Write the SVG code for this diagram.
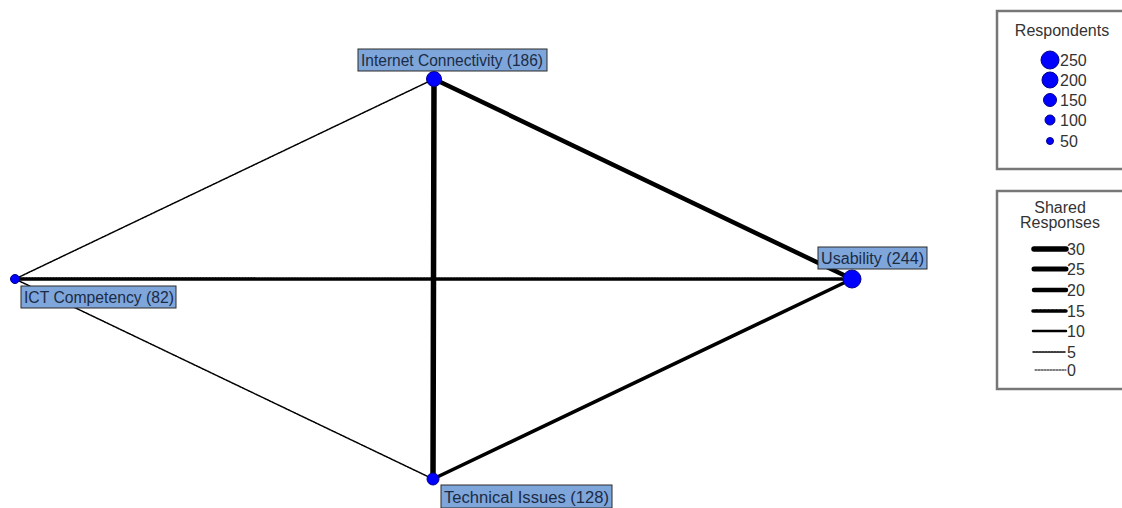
<svg xmlns="http://www.w3.org/2000/svg" width="1122" height="508" viewBox="0 0 1122 508">
<style>
.lbl{fill:#7ea6da;stroke:#2a2a2a;stroke-width:1}
.lt{font-family:"Liberation Sans",Arial,sans-serif;font-size:16px;fill:#1c2b45}
.node{fill:#0000ff;stroke:#00008a;stroke-width:1}
.e{stroke:#000;fill:none;stroke-linecap:round}
.box{fill:#fff;stroke:#777;stroke-width:2.5}
.leg{font-family:"Liberation Sans",Arial,sans-serif;font-size:16px;fill:#333}
</style>
<rect width="1122" height="508" fill="#fff"/>
<g id="connectors">
<line class="e" x1="15" y1="279" x2="434" y2="79" stroke-width="1.5" stroke-dasharray="2,1" stroke="#222"/>
<line class="e" x1="15" y1="279" x2="433" y2="479" stroke-width="1.5" stroke-dasharray="2,1" stroke="#222"/>
<line class="e" x1="15" y1="279" x2="852" y2="279" stroke-width="3.5" stroke-dasharray="2,1" stroke-linecap="butt" stroke="#222"/>
<line class="e" x1="434" y1="79" x2="433" y2="479" stroke-width="5.5"/>
<line class="e" x1="434" y1="79" x2="852" y2="279" stroke-width="4.5"/>
<line class="e" x1="433" y1="479" x2="852" y2="279" stroke-width="3.5"/>
</g>
<g id="n-internet">
<circle class="node" cx="434" cy="79" r="7.5"/>
<rect class="lbl" x="358" y="49" width="189" height="22"/>
<text class="lt" x="361" y="66" textLength="182" lengthAdjust="spacingAndGlyphs">Internet Connectivity (186)</text>
</g>
<g id="n-ict">
<circle class="node" cx="15" cy="279" r="4.5"/>
<rect class="lbl" x="21" y="286" width="155" height="22"/>
<text class="lt" x="24" y="303" textLength="150" lengthAdjust="spacingAndGlyphs">ICT Competency (82)</text>
</g>
<g id="n-usability">
<circle class="node" cx="852" cy="279" r="9"/>
<rect class="lbl" x="818" y="247" width="109" height="22"/>
<text class="lt" x="821" y="264" textLength="103" lengthAdjust="spacingAndGlyphs">Usability (244)</text>
</g>
<g id="n-technical">
<circle class="node" cx="433" cy="479" r="6"/>
<rect class="lbl" x="441" y="485" width="171" height="23"/>
<text class="lt" x="444" y="503" textLength="165" lengthAdjust="spacingAndGlyphs">Technical Issues (128)</text>
</g>
<g id="legend-respondents">
<rect class="box" x="997" y="11" width="130" height="158"/>
<text class="leg" x="1062" y="36" text-anchor="middle">Respondents</text>
<circle class="node" cx="1050" cy="60" r="9"/>
<circle class="node" cx="1050" cy="80" r="8"/>
<circle class="node" cx="1050" cy="100" r="6.5"/>
<circle class="node" cx="1050" cy="120" r="5"/>
<circle class="node" cx="1050" cy="141" r="3.5"/>
<text class="leg" x="1060" y="66">250</text>
<text class="leg" x="1060" y="86">200</text>
<text class="leg" x="1060" y="106">150</text>
<text class="leg" x="1060" y="126">100</text>
<text class="leg" x="1060" y="147">50</text>
</g>
<g id="legend-shared">
<rect class="box" x="997" y="191" width="130" height="198"/>
<text class="leg" x="1060" y="213" text-anchor="middle">Shared</text>
<text class="leg" x="1060" y="228" text-anchor="middle">Responses</text>
<line class="e" x1="1034" y1="249" x2="1066" y2="249" stroke-width="5.5"/>
<line class="e" x1="1034" y1="269" x2="1066" y2="269" stroke-width="5"/>
<line class="e" x1="1034" y1="290" x2="1066" y2="290" stroke-width="4.5"/>
<line class="e" x1="1033" y1="311" x2="1066" y2="311" stroke-width="3.5" stroke-dasharray="3,1" stroke-linecap="butt"/>
<line class="e" x1="1033" y1="331" x2="1066" y2="331" stroke-width="2.5" stroke-linecap="butt"/>
<line class="e" x1="1033" y1="352" x2="1066" y2="352" stroke-width="1.5" stroke-dasharray="2,1" stroke-linecap="butt"/>
<line class="e" x1="1035" y1="370" x2="1066" y2="370" stroke-width="1" stroke-dasharray="2,1" stroke-linecap="butt"/>
<text class="leg" x="1067" y="255">30</text>
<text class="leg" x="1067" y="275">25</text>
<text class="leg" x="1067" y="296">20</text>
<text class="leg" x="1067" y="317">15</text>
<text class="leg" x="1067" y="337">10</text>
<text class="leg" x="1067" y="358">5</text>
<text class="leg" x="1067" y="376">0</text>
</g>
</svg>
